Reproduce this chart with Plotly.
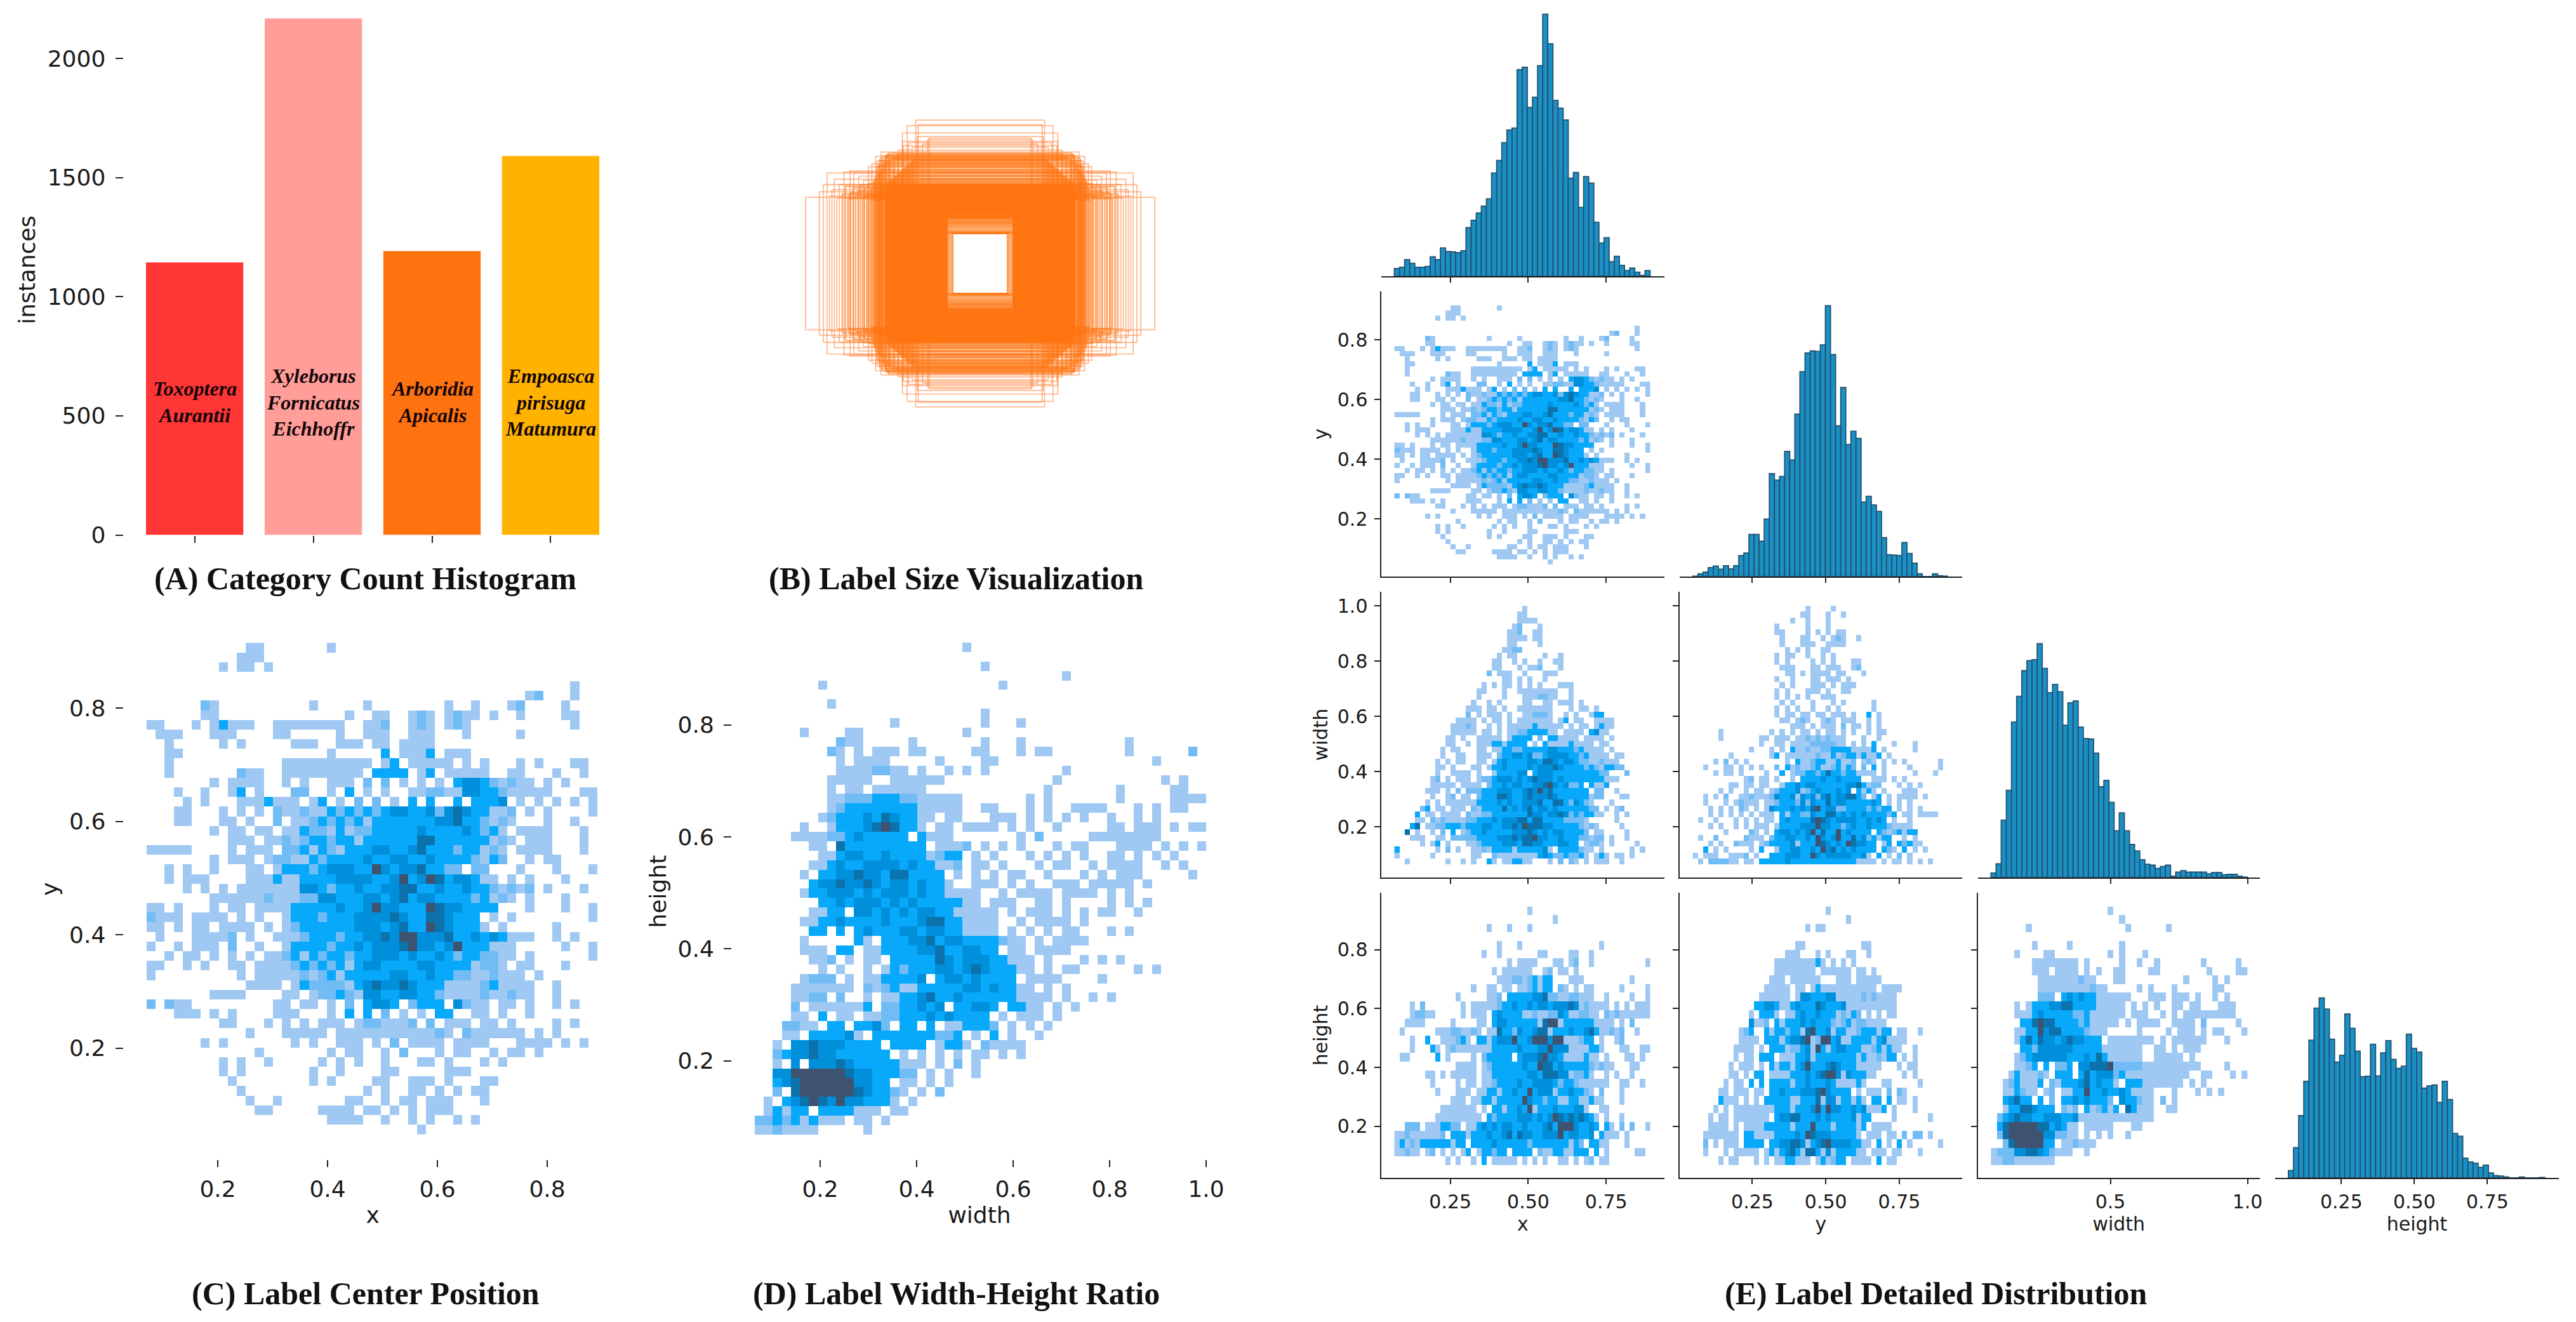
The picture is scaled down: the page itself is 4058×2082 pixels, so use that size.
import plotly.graph_objects as go

W, H = 4058, 2082
PAGE_MARGIN = 8  # the browser's default body margin pushes the figure in by this much

# panel A
species = ["Toxoptera<br>Aurantii", "Xyleborus<br>Fornicatus<br>Eichhoffr", "Arboridia<br>Apicalis", "Empoasca<br>pirisuga<br>Matumura"]
instances = [1144, 2168, 1191, 1591]
bar_colors = ["#FF3636", "#FF9E98", "#FF7210", "#FFB300"]
species_label_y = 558
count_ticks = [0, 500, 1000, 1500, 2000]

# panel B: label boxes, width and height as fractions of the image
outer_w = [1.0, 0.877, 0.898, 0.921, 0.807, 0.745, 0.599, 0.568, 0.445, 0.418, 0.369, 0.355, 0.445, 0.3, 0.292, 0.78, 0.835, 0.863, 0.821, 0.724, 0.696, 0.668, 0.752, 0.849,
           0.64, 0.62, 0.59, 0.575, 0.44, 0.47, 0.41, 0.39, 0.36, 0.33]
outer_h = [0.439, 0.599, 0.522, 0.474, 0.522, 0.613, 0.71, 0.738, 0.864, 0.912, 0.949, 0.919, 0.808, 0.82, 0.829, 0.606, 0.557, 0.446, 0.432, 0.599, 0.578, 0.55, 0.46, 0.488,
           0.64, 0.66, 0.68, 0.695, 0.78, 0.75, 0.8, 0.77, 0.84, 0.79]
stripe_w = [0.55, 0.558, 0.566, 0.572, 0.58, 0.586, 0.594, 0.602, 0.61, 0.618, 0.626, 0.634, 0.642, 0.65, 0.662, 0.674, 0.686, 0.7, 0.714, 0.728, 0.742, 0.758, 0.772, 0.79,
            0.54, 0.53, 0.52, 0.51, 0.5, 0.49, 0.48, 0.47, 0.46, 0.45, 0.44, 0.43, 0.42, 0.41, 0.4, 0.39, 0.38, 0.52, 0.5, 0.54, 0.47, 0.56, 0.49, 0.58,
            0.545, 0.552, 0.56, 0.568, 0.575, 0.582, 0.59, 0.598, 0.535, 0.525, 0.515, 0.605]
stripe_h = [0.46, 0.5, 0.44, 0.52, 0.48, 0.43, 0.51, 0.47, 0.54, 0.45, 0.49, 0.42, 0.53, 0.46, 0.5, 0.44, 0.52, 0.48, 0.45, 0.5, 0.47, 0.43, 0.51, 0.46,
            0.525, 0.535, 0.545, 0.555, 0.565, 0.575, 0.585, 0.595, 0.605, 0.615, 0.625, 0.635, 0.645, 0.655, 0.665, 0.675, 0.685, 0.695, 0.705, 0.715, 0.725, 0.67, 0.69, 0.65,
            0.7, 0.66, 0.71, 0.62, 0.68, 0.6, 0.64, 0.58, 0.72, 0.73, 0.69, 0.56]
core_w = [0.192, 0.196, 0.2, 0.204, 0.208, 0.212, 0.216, 0.22, 0.224, 0.228, 0.232, 0.236, 0.24, 0.244, 0.248, 0.252, 0.256, 0.26, 0.264, 0.268,
          0.272, 0.276, 0.28, 0.284, 0.288, 0.292, 0.296, 0.3, 0.304, 0.308, 0.312, 0.316, 0.32, 0.324, 0.328, 0.332, 0.336, 0.34, 0.344, 0.348,
          0.352, 0.356, 0.36, 0.364, 0.368, 0.372, 0.376, 0.38, 0.384, 0.388, 0.392, 0.396, 0.4, 0.404, 0.408, 0.412, 0.416, 0.42, 0.424, 0.428,
          0.432, 0.436, 0.44, 0.444, 0.448, 0.452, 0.456, 0.46, 0.464, 0.468, 0.472, 0.476, 0.48, 0.484, 0.488, 0.492, 0.496, 0.5, 0.504, 0.508,
          0.512, 0.516, 0.52, 0.524, 0.528, 0.532, 0.536, 0.54]
core_h = [0.31, 0.416, 0.322, 0.488, 0.34, 0.404, 0.352, 0.515, 0.328, 0.452, 0.364, 0.392, 0.316, 0.476, 0.376, 0.428, 0.346, 0.5, 0.388, 0.44,
          0.334, 0.464, 0.4, 0.358, 0.508, 0.37, 0.422, 0.304, 0.482, 0.394, 0.446, 0.382, 0.494, 0.41, 0.458, 0.34, 0.47, 0.512, 0.434, 0.36,
          0.51, 0.38, 0.506, 0.42, 0.33, 0.498, 0.4, 0.462, 0.49, 0.35, 0.44, 0.515, 0.372, 0.485, 0.48, 0.45, 0.39, 0.47, 0.41, 0.504,
          0.5, 0.345, 0.492, 0.43, 0.478, 0.365, 0.468, 0.45, 0.51, 0.385, 0.438, 0.47, 0.456, 0.405, 0.496, 0.355, 0.442, 0.49, 0.425, 0.502,
          0.375, 0.462, 0.445, 0.512, 0.395, 0.48, 0.465, 0.42]
hole_w = [0.156, 0.161, 0.168, 0.176, 0.183, 0.192, 0.192, 0.192, 0.192, 0.192, 0.192, 0.192, 0.192, 0.192, 0.192, 0.192, 0.192, 0.192, 0.192, 0.192, 0.192, 0.192, 0.192, 0.192]
hole_h = [0.198, 0.2, 0.198, 0.205, 0.21, 0.222, 0.23, 0.238, 0.244, 0.25, 0.256, 0.262, 0.266, 0.27, 0.274, 0.278, 0.283, 0.288, 0.292, 0.296, 0.202, 0.214, 0.3, 0.305]

# panels C and E: centre x against centre y
center_rows = [
"...........11.......1",
"..........111",
"........1.11.1",
"",
"...............................................1",
"..........................................12...1",
"......21..........1.....1........1..1...12....1",
"......11..............1..11..121.1211.1..1....11",
"11...1.13111..11111111..112..121.121...........1",
".111...111....11.....1..111..111...1.....1",
"..1.....1.1.....111..111.11.1111",
"..11................1.....3.1113.111",
"..1............1111111111.13.11111.1.1...1.1...11",
"..1.......211..111111111.3333.13.11111..11...1..1",
".......1.1111..1.1..111.2.2.1.1.1.344321211.1.1",
"...1..1..13.1...22..1.3.1.1..1122114433211111...11",
"....1.1...1113111.13.1.2.2.1.3.3..3.3334.1.1.1.1.1",
"...11...1.1.1.211211323232344334245433112.1.1....1",
"...11...11.1..2.1123232313333333445332121...1..1",
".......1.11.11.1132213122333334333343231.1111...1",
".........111.1121233233133333355333333121.111...1",
"11111....1.111.2231321333443345333233121.1111...1",
".......1.111.122113233334334433433332132..1.11",
"..1.1..1...11.133323444336434453322.22...1...1...1",
"..1.111....1113113333444433463465344311.1.1...1",
"....1.1.1.111111144323343344553343343321212.1...1",
".......1111112111224433344345344333323121.1...1...",
"11.1...1.11.111133333433464433365443333...1...1..1",
"2111.1111.1.1..1333233344445433554333.1.1........1",
"11.1.11.1111.1.12333333444345336543331.1.....1",
".1...11112.1..11123332334454664445334343111..1.1",
"1..1.111.2..1..13333233434445644346333111.....1..1",
"..1.11.1.1.1.1123132332334443433432332211.1......1",
"11..1.1..11.1111232323134433334433331221.11...1",
"1.........1.111112123133333443343322112111.1..",
"...........1111.132222134544543331111231111..1",
".......1111....11.1223214433443321111211211..1",
"2.211.........11.11.1.2.3443.2333.4211.11.1..1.1",
"...111.1.1....111...1.3.3.2.1.1.33..11.1..1.",
"........11...1.1.1.111.1221112.2.111.11.1....1.1",
"...........1...11111.1111111111121.2111111.1.1",
"......1.1.......1.1..111.1.2.1111.1111...1111.1.1",
"............1.......1.11..1.2...1.11..1.11.1....",
"........1.1..1.....1.1.1..1...11.1...1.1...",
"........1.1.......1..1....11.....111.......",
".........1........1.1....11..111.1...11",
"..........1.............1.1..11.1.1.11..",
"...........1..1.......11..1.11.111...1",
"............11.....1111.11.1.1.111...",
"....................1111..1..1.1..1.1.......",
"..............................1",
]

# panel D: label width against label height
size_rows = [
".......................1",
"",
".........................1",
"..................................1",
".......1...................1",
"",
"........1",
".........................1",
"...............1.........1...1",
".....1....11...........1",
".........211.....1.......1...1...........1",
"........21.1.111.11.....11...1.11........1......2",
".........1.1111.....1....11.................1.....1",
".........11112211.1..1.1.1........1",
"........11111..111111............1...........1.1",
"........1.11.111111.............1.......1.....11",
"........112223332211111.......1.1.......1.....1111",
"........123333333311111..11...1.1..1111...1.1.11",
".......1233343543311.11...111.1.1.1.1..1..1.1",
".....1..13334565331.11.1111.1.1..1.....11.111.1.11",
"....1111223433333.3111.......1.2.....11111111",
"......11.5333333333.1112.1.1.1...1.11...1111.1.1.1",
".......1134433433331233.1.1...1.1.1.1..11.1.1.1",
"......11343344443433112.11.1...1.11..1.1111..1.1",
".....1.33445443553333.1.1.1.11..1...1.1.111.....1",
"......3445445434434331..111.1.1..111.11111.1.....",
".....13344434344434331111..1.1111.1111.1.1",
".......334344434343333311.111..11.1....1.1.1",
"......1133.4434343443311111.1.111.1.1.11..1",
".....1133433334333455331111..1.1111.1",
"......33.3.3433344344331111.1.1.1.11...1.1",
".....1.....31.3334453443333211.1.1111",
".....111.33.113333445334433.11.1111",
"......112.1.11.3333354344433111.1...1.1.1",
".......1.1..1.13233344345433311.1.11......1.1",
".....1222.1.1133334.344343333.1111....1",
"....1111111.2123113333344343311.1.1",
"....1122.2..1.1133453343333331111.1..1.1",
"....2.1111113.2233434.33443.3311.1.1",
"....11.3.11.11223334343333.1.111.1",
"...2211.33.3342.33.3.113332.1.1.1",
"...11.333341.3333333223.1.3.1..1",
"..1.4454443333.3333.1331.21111",
"..2344544333333.1.1.1.1.11.1.1",
"..1.4.4445433333111.1.2.1",
"..4466666654433322.1.1..1",
"..3456666664433.11.1.1",
"..2.5666666543321.1.2",
".1.3456546443331.1.",
".13133.3333111.11",
"2232313111.11.1",
"1121111.....1",
]

# panel E: centre x against label width
x_width_rows = [
".........................1",
"........................11",
"........................1111",
".......................12...1",
"......................112..11",
"......................1111.11",
"......................11....1",
".....................1122",
"....................1.11.....1..1",
"...................11..1.1..1..11",
"...................11...1.112...1",
"..................2.111..1...111",
".....................11.1.1..1",
".................1.1.11.1.1.1...111",
"................11...1..11111111..1",
"................1....1...1112211..1",
"...............1..1.1....11..11.111.1",
"..............111.11.1..1111111...1.11.1",
"..............2.1.111.1..112221..1.1..133",
"............1111.1.11.1.1111111.13.11..1111",
"...........11121..1.1.11111311111.1.11.1311",
"...........11111.11.1.1122333311.1111.3411",
"..........11.1..11111.13333.2.331111.1111.1",
"..........11..1.1113313333.1.3111131111.11",
".........1.11...11.1133223333344333231111.1",
".........1..11..111.2334434223444433231111.11",
"........1.1.11..11.1343333443554344322112111",
"........11.1...11.133433334344454333323213322",
"........1..1111.1..1333344.344433333333322...2",
".......12.1.111.1223444343454443433333333111",
".......11111.1111.2334344334456434223.3113",
"......111.1.2.222333444334546453333333.22..1",
".......1..12.11.2333554334544454333333122...11",
"......1.1.11111133334343344453355324321...1",
".....23.11.111.2133335343453443433333322.1.12",
"....3.11.1111.211223333333544344542323311..1.1",
"....11.2121111223334344455355333322221.....1",
"...35.1122333233344334454655544333332121....1",
"..5.1..1.2.3.1233433333444543434433332.11....1",
"...111..11.222223333444545564433433322122.1..1",
".....1.13.1...1123333444355443334433.1221.1....1",
"3.......1.2.1..1121333313333341.3333211.1.....1.1",
"1......1.......11..2111111113432232231.131.11.1",
"..1.......1..1.1..31.113311...1.2.21.1.111..1",
]

# panel E: centre y against label width
y_width_rows = [
"......................1....1",
".....................11...1..1",
"...................1..1...1....",
"................1.....1...1",
"................11....1.1.1.11",
".................1...11..1.121..1",
".................1...111..1111",
"..................1.1.1..11",
"................1.11..1..1.1",
"................1.1....1.1.1...11",
".................111...11.111..12",
"..................11.1.1111.11...1",
"................1..1...11.111.1",
".................1.1...111.1.111",
"................1.1...111.1..11",
"................1.1.1.1..111",
".................1.1...1...1.1.....1",
"................1.1.1..1..1.1......1",
"................1.11.11.11.111.1..3.1.",
".................11.121..121.111..1.1",
"...................111.1.111.2.11.1.1",
".....1.........1.1.1.11.1.11.1.1..1.11",
".....1.......11.111.1121212111...1..1",
".............1..11.11112222211.1.1.3...1...1",
"...........1...1.1.31121122333311113.1.....1",
".......1.......13.11111121131233131 3.1.....".replace(" ", "1"),
"....1.2.1.1.......1.311233113112.121.1.1.1......1",
"..1...11.1.1.1..2.31211231123132.2.3.1....1.....1",
"....1.11.1....1..3.12233235332331111.1.....1...1",
"..........12.11.1..1.333343343333..111.1.1.......",
".......11.11.11..13343443333334453122...1.1.1....",
".....1.1..1.11.1233341234333434.3131.1...111..",
"..1.1.2..1121112433414342453445532.13.1.1111.1.",
"..1...1.12111.11233324243353443333343.1.1.1",
"...1.1.1.21.1.1433343435634422333323233.1.1.1.",
"...1.1.1.1.1.111.31332243355343434333323.11.1111",
".1..1...1.1.1.11.343333565434444334343.1..1.",
"...1.1..1.1.111.133334446443323433433321111.",
"......1....21.1.3443434635336343333.32123133.",
".1..2.....2111.233443343643463353423133..1.1",
"...1.1..2111.12333341333654343654433.13.32311",
"..3.1.1....1.3..133443343645343433 3.321.3.1.1.....1".replace(" ", "3"),
"1.111..1112.1..33344433643444443341.3.1.2.1",
".1.222211.11.333334333333333333311 1.1.11.1.1.1".replace(" ", "1"),
]

# panel E: centre x against label height
x_height_rows = [
"..........................1",
"...............................1",
"..................1...1...1",
"",
"....................1...1...............1",
".................1..1.......11....11..1",
"......................1.1111...11.12..1..........1",
"...................1.111111..12.11.1",
"....................11122123133...111.........1...111",
"...............1..11.11.1123133.21.1.11.....1....1",
"............1.....112.33333445221122111..1....1..1",
"...1.2.......1.111112334334344344454121111.1.1.111",
"...12211.....1.111.343333112112243112211.212111111",
"..1111.....1....11.344333333156613333331111.1.2",
".1......111221121.115332433455133343345311212..1",
"...1..3..111231.33134446334666466111233.1..12",
"...1...31.1211111113333343334464441111331...11..11",
".11.....3.1....1.233333.3444564431111311.1...11.1",
"............1111.12333333433655343333321211...11",
"......11.1.11111.1133333334435554412231..1.1..1",
".......1....1.11.1123333433444432332111111..11..1",
"........1...111.11331334336344413343321.2...1",
"...........111.11331333336433233113311311...1",
".........1111111.1.3313343613334333441..11.",
"........111111111.3233334443434654545431.1..1",
"..222.1113322.11343434433433345366643343.31.2.2..1",
"1121111112.3331333433453544334446344334.3111.1",
"13121333333133.3333433333323333333132.3311...1",
"11211.12.1.1.13.133233.3333.2113311333.3.1.....11",
"..........1.1..1.3.11111.1.1.1..11.1.12.11",
]

# panel E: centre y against label height
y_height_rows = [
"..........................1",
"..............................1",
"......................1.11",
"",
"....................11...........11",
"..................111...1.1...11..1",
"................1111111131.1.1.1",
"................11111111.111111.11.1",
"...............111.111111...111.11111",
"..............11111.11.1311111111111.1111",
".............111111.14433344111112121111",
"............3344311343335433341111111111",
"...........1.3331.113433433312132.1.1.11",
"...........4112.3133343433321231221111",
".........123..3133233156334133112333133.11..1",
".........1111.33313445612663411333313411 1".replace(" ", "1"),
"........1111.1.33312234163134433311231311..1",
"........1.11.333.11133413333333313112133.1.1",
".......1.111.1.3133134633345433311111...1.11",
".......11.1.33.111133343456641433311.....1.1",
"......1.11.3.3.3333133433343111131...11.....1",
".....11.111.11.3343334445643333.1.111.2.21",
".....3111.1.1.33333113335144133131.33.3.11.1",
"....1.1.111111113331333463644334341113.1...1",
"...1.11.1111111.3445533343433334133....1......1",
"...1111.1.111133333133363331333313.1111",
"..1111111.33111133334365444333331.111.11.2.22.1",
"..2.1.111.3333.33445541345644443311.3.1.3.1.....1",
"..1...1.11111.13134531553141333311.111.11...1",
".....1.11...1.1.1133111.131233.1111.3.11",
]

# panel E: label width against label height (coarser bins)
wh_rows = [
"....................1",
"......................1",
"......1................1......1",
"",
".......1.....1........1",
"....1....11.........1.1...1",
".......11111111.1.....1..1..1.......1.....1",
".......111.1111.1.1..11....11........1....11",
"........1111111211...11..........1....1.1",
"........111111111211.....1.1...1......11",
"........222.343433111111...111.111.1..1.1",
"....1.13334455333311111.1.1.1..11.11...111",
"....1113433333223111111.111..1.1.111111111",
".....33565533332311111.1.1111..1111.2.....1",
"....1133645533332111.....1....1.111.1.11...1",
"....135354434544333.11111111.1.111111...1",
".....332444444333331111111..11.1.111",
"....1234444443334353111111..11111.1",
"....1123.3.223.445556222221111111111....1",
"...1311121.333.3534442311111111111..11...1.1",
"..1231113.213334534331.3331111111.1.1",
"..113211.12.1133633433431111...1...1.1.1",
"..34533.3.2.334343332.433211.2.1",
"..133554333.212.312313.53111..11",
".234544334443341111111111111",
".35666665534311.11111...11",
".25666666442211.1.1.1..1",
"..256666633.112111",
"12224455432111..1",
"11221111111",
]

# panel E diagonals
x_hist = [19, 22, 41, 32, 22, 22, 24, 48, 41, 70, 61, 60, 58, 63, 120, 138, 156, 173, 191, 255, 286, 330, 361, 366, 510,
          516, 417, 442, 520, 647, 574, 434, 415, 386, 242, 256, 170, 246, 230, 133, 82, 95, 36, 49, 27, 14, 20, 10, 2, 14]
y_hist = [1, 7, 11, 22, 26, 18, 27, 19, 27, 52, 58, 104, 104, 87, 142, 254, 238, 247, 309, 288, 401, 506, 552, 557, 556,
          572, 669, 548, 372, 467, 326, 359, 341, 184, 198, 177, 161, 96, 54, 53, 52, 84, 57, 33, 7, 0, 0, 7, 2, 1]
width_hist = [10, 30, 125, 190, 339, 395, 451, 473, 475, 510, 456, 403, 421, 405, 332, 381, 385, 328, 303, 302, 271, 198, 212, 164, 102,
              141, 102, 72, 58, 39, 29, 27, 20, 24, 27, 3, 12, 15, 12, 12, 12, 12, 8, 11, 11, 6, 7, 7, 3, 1]
height_hist = [16, 66, 136, 211, 301, 371, 393, 369, 303, 253, 268, 358, 327, 277, 221, 222, 292, 223, 273, 300, 259, 239, 244, 314, 283,
               275, 196, 201, 203, 165, 211, 171, 97, 91, 43, 35, 32, 23, 28, 11, 5, 4, 2, 0, 0, 2, 0, 0, 0, 1]

# data extent of each variable
x_span = [0.0705, 0.891]
y_span = [0.0476, 0.915]
width_span = [0.0645, 1.0]
height_span = [0.0685, 0.947]

density_scale = [[0, "#FFFFFF"], [0.08, "#FFFFFF"], [0.08, "#9FC9F2"], [0.25, "#9FC9F2"], [0.25, "#72BCF6"], [0.42, "#72BCF6"],
                 [0.42, "#08A9FB"], [0.58, "#08A9FB"], [0.58, "#0090DB"], [0.75, "#0090DB"], [0.75, "#0B72AC"], [0.92, "#0B72AC"],
                 [0.92, "#3E5370"], [1, "#3E5370"]]
TICK_FONT = "DejaVu Sans"
INK = "#1a1a1a"

fig = go.Figure()
layout = dict(
    width=W, height=H, margin=dict(l=0, r=0, t=0, b=0), template=None,
    paper_bgcolor="white", plot_bgcolor="white", showlegend=False, annotations=[],
)
axis_count = 0


def to_matrix(rows, ncols):
    # rows are typed top to bottom, a heatmap wants them bottom to top
    return [[int(c) if c != "." else 0 for c in row.ljust(ncols, ".")[:ncols]] for row in rows[::-1]]


def add_axes(box, xrange, yrange, xticks=None, yticks=None, xlabels=False, ylabels=False, xtitle=None, ytitle=None,
             xline=False, yline=False, size=36, xlen=11, ylen=12, xstand=8, ystand=6, xfmt=".1f", yfmt=".1f", gap=8):
    global axis_count
    axis_count += 1
    n = axis_count
    left, top, right, bottom = box
    left, right = left - PAGE_MARGIN, right - PAGE_MARGIN
    top, bottom = top - PAGE_MARGIN, bottom - PAGE_MARGIN
    xa = dict(
        domain=[left / W, right / W], range=xrange, anchor=f"y{n}", showgrid=False, zeroline=False, automargin=False,
        showline=xline, linecolor="#222", linewidth=2.2, ticks="outside" if xticks else "", tickcolor="#222", ticklen=xlen, tickwidth=2.4,
        tickmode="array", tickvals=xticks or [], tickformat=xfmt, showticklabels=xlabels, ticklabelstandoff=gap // 2,
        tickfont=dict(family=TICK_FONT, size=size, color=INK),
    )
    ya = dict(
        domain=[1 - bottom / H, 1 - top / H], range=yrange, anchor=f"x{n}", showgrid=False, zeroline=False, automargin=False,
        showline=yline, linecolor="#222", linewidth=2.2, ticks="outside" if yticks else "", tickcolor="#222", ticklen=ylen, tickwidth=2.4,
        tickmode="array", tickvals=yticks or [], tickformat=yfmt, showticklabels=ylabels, ticklabelstandoff=gap,
        tickfont=dict(family=TICK_FONT, size=size, color=INK),
    )
    if xtitle:
        xa["title"] = dict(text=xtitle, font=dict(family=TICK_FONT, size=size, color=INK), standoff=xstand)
    if ytitle:
        ya["title"] = dict(text=ytitle, font=dict(family=TICK_FONT, size=size, color=INK), standoff=ystand)
    layout["xaxis" if n == 1 else f"xaxis{n}"] = xa
    layout["yaxis" if n == 1 else f"yaxis{n}"] = ya
    return ("x" if n == 1 else f"x{n}"), ("y" if n == 1 else f"y{n}")


def add_density(xa, ya, rows, ncols, xspan, yspan):
    nrows = len(rows)
    dx = (xspan[1] - xspan[0]) / ncols
    dy = (yspan[1] - yspan[0]) / nrows
    fig.add_trace(go.Heatmap(
        z=to_matrix(rows, ncols), x0=xspan[0] + dx / 2, dx=dx, y0=yspan[0] + dy / 2, dy=dy, xaxis=xa, yaxis=ya,
        colorscale=density_scale, zmin=0, zmax=6, showscale=False, hoverinfo="skip",
    ))


def add_hist(xa, ya, counts, span):
    dx = (span[1] - span[0]) / len(counts)
    fig.add_trace(go.Bar(
        x0=span[0] + dx / 2, dx=dx, y=counts, width=dx, xaxis=xa, yaxis=ya,
        marker=dict(color="#1A91C6", line=dict(color="#24506C", width=1.8)), hoverinfo="skip",
    ))


def add_boxes(xa, ya, widths, heights, color, line_width):
    for w, h in zip(widths, heights):
        x0, x1, y0, y1 = 0.5 - w / 2, 0.5 + w / 2, 0.5 - h / 2, 0.5 + h / 2
        fig.add_trace(go.Scatter(
            x=[x0, x1, x1, x0, x0], y=[y0, y0, y1, y1, y0], mode="lines", xaxis=xa, yaxis=ya,
            line=dict(color=color, width=line_width), hoverinfo="skip",
        ))


# (A)
xa, ya = add_axes((194.5, 8, 960, 842.5), [-0.6, 3.495], [0, 2224], xticks=[0, 1, 2, 3], yticks=count_ticks, ylabels=True,
                  ytitle="instances", ystand=8, yfmt="d")
fig.add_trace(go.Bar(x=[0, 1, 2, 3], y=instances, width=0.82, marker_color=bar_colors, xaxis=xa, yaxis=ya))
for i, name in enumerate(species):
    layout["annotations"].append(dict(
        x=i, y=species_label_y, xref=xa, yref=ya, text=f"<b><i>{name}</i></b>", showarrow=False,
        font=dict(family="Liberation Serif", size=32, color="#14050a"),
    ))

# (B)
xa, ya = add_axes((1258, 167.5, 1830, 662.5), [-0.02, 1.02], [-0.02, 1.02])
add_boxes(xa, ya, outer_w, outer_h, "rgba(255,120,40,0.5)", 1.8)
add_boxes(xa, ya, stripe_w, stripe_h, "rgba(255,116,17,0.6)", 2.2)
add_boxes(xa, ya, hole_w, hole_h, "rgba(255,116,17,0.6)", 2.2)
add_boxes(xa, ya, core_w, core_h, "rgba(255,116,17,0.85)", 3)

# (C)
xa, ya = add_axes((194.5, 974, 980, 1826), [0.0283, 0.9364], [0.00336, 0.958], xticks=[0.2, 0.4, 0.6, 0.8], yticks=[0.2, 0.4, 0.6, 0.8],
                  xlabels=True, ylabels=True, xtitle="x", ytitle="y")
add_density(xa, ya, center_rows, 50, x_span, y_span)

# (D)
xa, ya = add_axes((1153, 982, 1933, 1826), [0.0171, 1.0434], [0.0237, 0.981], xticks=[0.2, 0.4, 0.6, 0.8, 1.0], yticks=[0.2, 0.4, 0.6, 0.8],
                  xlabels=True, ylabels=True, xtitle="width", ytitle="height")
add_density(xa, ya, size_rows, 50, width_span, height_span)

# (E) pair grid, column and row geometry
col_box = [(2175.6, 2622), (2646, 3091), (3115.6, 3560), (3584, 4031)]
row_box = [(8, 435), (459, 908), (932, 1382), (1406, 1855)]
col_range = [[0.0278, 0.937], [0.0027, 0.964], [0.0164, 1.045], [0.023, 0.995]]
row_range = [None, [0.0064, 0.9617], [0.0168, 1.051], [0.0246, 0.994]]
col_ticks = [[0.25, 0.5, 0.75], [0.25, 0.5, 0.75], [0.5, 1.0], [0.25, 0.5, 0.75]]
col_fmt = [".2f", ".2f", ".1f", ".2f"]
row_ticks = [None, [0.2, 0.4, 0.6, 0.8], [0.2, 0.4, 0.6, 0.8, 1.0], [0.2, 0.4, 0.6, 0.8]]
names = ["x", "y", "width", "height"]
hists = [x_hist, y_hist, width_hist, height_hist]
hist_top = [669.5, 704, 623, 623]
spans = [x_span, y_span, width_span, height_span]
pairs = {
    (1, 0): (center_rows, 50),
    (2, 0): (x_width_rows, 50),
    (2, 1): (y_width_rows, 50),
    (3, 0): (x_height_rows, 50),
    (3, 1): (y_height_rows, 50),
    (3, 2): (wh_rows, 44),
}

for r in range(4):
    for c in range(r + 1):
        box = (col_box[c][0], row_box[r][0], col_box[c][1], row_box[r][1])
        last = r == 3
        if r == c:
            xa, ya = add_axes(box, col_range[c], [0, hist_top[r]], xticks=col_ticks[c], xlabels=last, xline=True,
                              xtitle=names[c] if last else None, size=30, xlen=8, xstand=5, xfmt=col_fmt[c], gap=4)
            add_hist(xa, ya, hists[r], spans[c])
        else:
            xa, ya = add_axes(box, col_range[c], row_range[r], xticks=col_ticks[c], yticks=row_ticks[r], xlabels=last, ylabels=c == 0,
                              xline=True, yline=True, xtitle=names[c] if last else None, ytitle=names[r] if c == 0 else None,
                              size=30, xlen=8, ylen=9, xstand=5, ystand=6, xfmt=col_fmt[c], gap=4)
            rows, ncols = pairs[(r, c)]
            add_density(xa, ya, rows, ncols, spans[c], spans[r])

# panel captions
captions = [
    ("(A) Category Count Histogram", 575, 911),
    ("(B) Label Size Visualization", 1506, 911),
    ("(C) Label Center Position", 576, 2037),
    ("(D) Label Width-Height Ratio", 1506, 2037),
    ("(E) Label Detailed Distribution", 3049, 2037),
]
for text, cx, cy in captions:
    layout["annotations"].append(dict(
        x=(cx - PAGE_MARGIN) / W, y=1 - (cy - PAGE_MARGIN) / H, xref="paper", yref="paper", xanchor="center", yanchor="middle",
        text=f"<b>{text}</b>", showarrow=False, font=dict(family="Liberation Serif", size=50, color="#111"),
    ))

fig.update_layout(**layout)
fig.write_html("out.html")
